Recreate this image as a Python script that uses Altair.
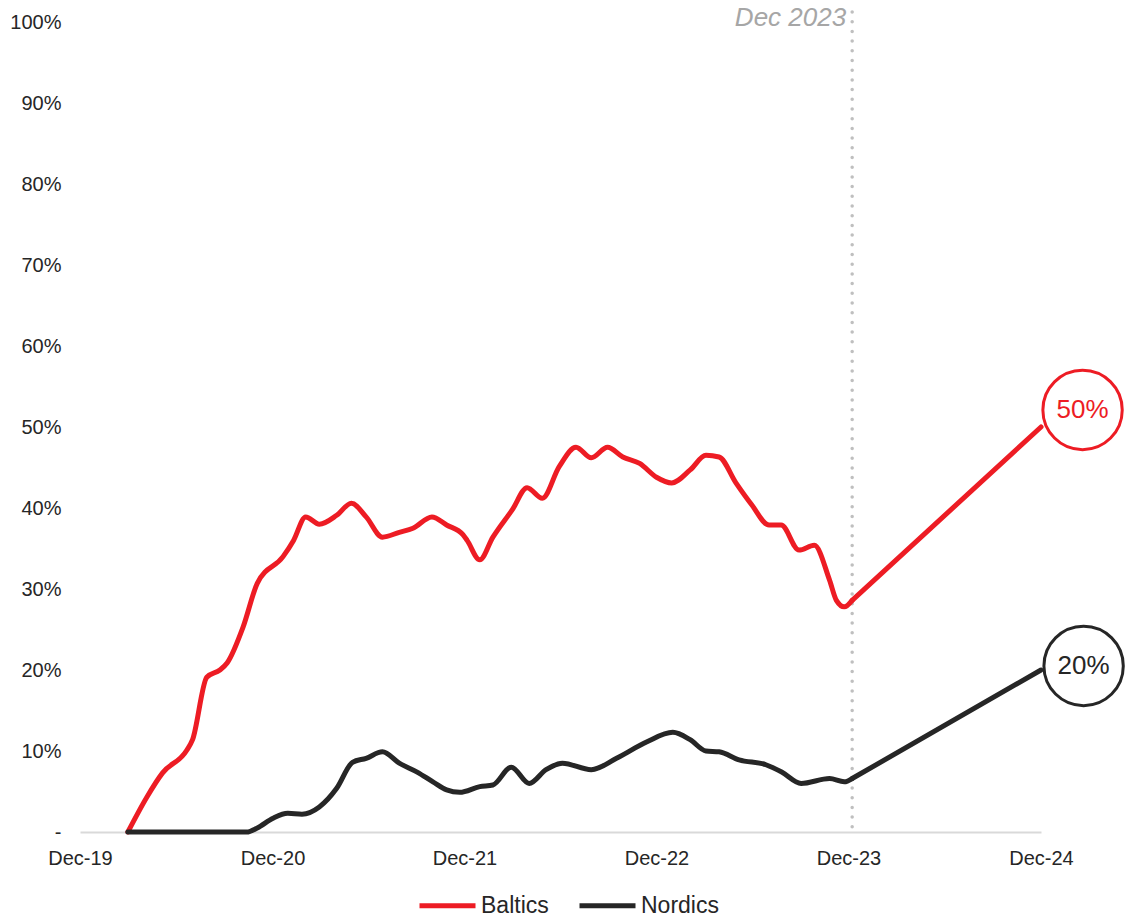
import altair as alt
import pandas as pd

RED = "#ED1C24"
BLACK = "#262626"

baltics_dates = [
    "2020-03-01", "2020-04-06", "2020-05-06", "2020-06-21", "2020-07-02", "2020-07-29",
    "2020-08-23", "2020-09-06", "2020-10-06", "2020-11-02", "2020-12-21", "2021-01-10",
    "2021-02-02", "2021-02-28", "2021-04-02", "2021-04-30", "2021-05-28", "2021-06-28",
    "2021-07-30", "2021-08-25", "2021-09-30", "2021-10-28", "2021-11-28", "2021-12-06",
    "2021-12-30", "2022-01-24", "2022-03-02", "2022-03-30", "2022-04-28", "2022-05-30",
    "2022-07-01", "2022-07-30", "2022-08-30", "2022-09-28", "2022-10-30", "2022-12-01",
    "2022-12-30", "2023-02-03", "2023-03-05", "2023-03-30", "2023-05-01", "2023-05-31",
    "2023-07-03", "2023-07-26", "2023-08-29", "2023-09-27", "2023-10-26", "2023-11-08",
    "2023-11-23", "2023-12-08",
]
baltics_values = [
    0.0, 4.3, 7.3, 10.1, 11.4, 19.1,
    20.0, 20.9, 25.3, 30.7, 34.0, 36.0,
    38.9, 38.0, 39.1, 40.6, 38.9, 36.4,
    37.0, 37.5, 38.9, 37.9, 36.7, 36.0,
    33.6, 36.4, 39.8, 42.5, 41.2, 45.1,
    47.5, 46.2, 47.5, 46.3, 45.5, 43.8,
    43.1, 44.7, 46.5, 46.3, 43.1, 40.4,
    37.9, 37.9, 34.8, 35.4, 31.1, 28.6,
    27.8, 28.6,
]

nordics_dates = [
    "2020-03-01", "2020-10-13", "2020-11-02", "2020-12-02", "2020-12-30", "2021-01-26",
    "2021-02-28", "2021-04-02", "2021-05-02", "2021-05-28", "2021-06-28", "2021-07-30",
    "2021-09-02", "2021-10-02", "2021-10-28", "2021-11-22", "2021-12-30", "2022-01-24",
    "2022-02-28", "2022-04-03", "2022-05-05", "2022-06-05", "2022-07-30", "2022-09-16",
    "2022-11-12", "2023-01-01", "2023-02-03", "2023-03-05", "2023-03-30", "2023-05-07",
    "2023-06-27", "2023-07-27", "2023-09-02", "2023-10-26", "2023-11-23", "2023-12-08",
]
nordics_values = [
    0.0, 0.0, 0.5, 1.7, 2.3, 2.2,
    3.1, 5.4, 8.6, 9.1, 9.9, 8.5,
    7.4, 6.2, 5.2, 4.9, 5.6, 5.8,
    8.0, 6.0, 7.7, 8.5, 7.7, 9.1,
    11.1, 12.3, 11.4, 10.0, 9.9, 8.9,
    8.3, 7.4, 6.0, 6.6, 6.2, 6.6,
]

# projection to Dec-24
proj_dates = ["2023-12-08", "2024-12-01"]
baltics_proj = [28.6, 50.0]
nordics_proj = [6.6, 20.0]

# target bubbles
bubble_series = ["Baltics", "Nordics"]
bubble_dates = ["2025-02-18", "2025-02-20"]
bubble_values = [52.1, 20.5]
bubble_labels = ["50%", "20%"]

marker_date = ["2023-12-08"]
marker_label = ["Dec 2023"]

series_names = ["Baltics", "Nordics"]
series_colors = [RED, BLACK]

hist = pd.concat([
    pd.DataFrame({"date": baltics_dates, "value": baltics_values, "series": "Baltics"}),
    pd.DataFrame({"date": nordics_dates, "value": nordics_values, "series": "Nordics"}),
])
proj = pd.concat([
    pd.DataFrame({"date": proj_dates, "value": baltics_proj, "series": "Baltics"}),
    pd.DataFrame({"date": proj_dates, "value": nordics_proj, "series": "Nordics"}),
])
bubbles = pd.DataFrame({"date": bubble_dates, "value": bubble_values,
                        "series": bubble_series, "label": bubble_labels})
marker = pd.DataFrame({"date": marker_date, "label": marker_label})

x_ticks = [alt.DateTime(year=y, month=12, date=1, utc=True) for y in range(2019, 2025)]
x_scale = alt.Scale(type="utc", domain=[x_ticks[0], x_ticks[-1]])
y_scale = alt.Scale(domain=[0, 100], nice=False)
color_scale = alt.Scale(domain=series_names, range=series_colors)

x_enc = alt.X(
    "date:T", scale=x_scale, title=None,
    axis=alt.Axis(values=x_ticks, labelExpr="utcFormat(datum.value, '%b-%y')",
                  grid=False, ticks=False, tickSize=0, domain=True, labelFlush=False,
                  labelAlign="center",
                  domainColor="#D9D9D9", domainWidth=2, labelPadding=16,
                  labelFontSize=20, labelColor=BLACK, labelFont="Liberation Sans"),
)
y_enc = alt.Y(
    "value:Q", scale=y_scale, title=None,
    axis=alt.Axis(values=list(range(0, 101, 10)),
                  labelExpr="datum.value == 0 ? '-' : datum.value + '%'",
                  grid=False, ticks=False, tickSize=0, domain=False, labelPadding=19,
                  labelFlush=False,
                  labelFontSize=20, labelColor=BLACK, labelFont="Liberation Sans"),
)

hist_line = alt.Chart(hist).mark_line(strokeWidth=5, interpolate="monotone", strokeCap="round").encode(
    x=x_enc, y=y_enc,
    color=alt.Color("series:N", scale=color_scale, title=None,
                    legend=alt.Legend(orient="none", direction="horizontal",
                                      legendX=337, legendY=853,
                                      symbolType="stroke", symbolSize=3136,
                                      symbolStrokeWidth=5, labelFontSize=23,
                                      labelFont="Liberation Sans", labelColor=BLACK,
                                      labelOffset=3, columnPadding=20)),
)
proj_line = alt.Chart(proj).mark_line(strokeWidth=5, strokeCap="round").encode(
    x="date:T", y="value:Q",
    color=alt.Color("series:N", scale=color_scale, legend=None),
)
rule = alt.Chart(marker).mark_rule(
    color="#BFBFBF", strokeWidth=3.5, strokeDash=[0, 9.7], strokeCap="round"
).encode(x="date:T", y=alt.value(-10), y2=alt.value(810))
rule_text = alt.Chart(marker).mark_text(
    align="right", baseline="alphabetic", dx=-6, fontSize=26, fontStyle="italic",
    font="Liberation Sans", color="#A6A6A6"
).encode(x="date:T", y=alt.value(4), text="label:N")

bubble_circles = alt.Chart(bubbles).mark_circle(
    size=6300, fill="white", opacity=1, strokeWidth=3
).encode(
    x="date:T", y="value:Q",
    stroke=alt.Stroke("series:N", scale=color_scale, legend=None),
)
bubble_text = alt.Chart(bubbles).mark_text(
    fontSize=26, font="Liberation Sans", align="center", baseline="middle"
).encode(
    x="date:T", y="value:Q", text="label:N",
    color=alt.Color("series:N", scale=color_scale, legend=None),
)

chart = alt.layer(rule, hist_line, proj_line, bubble_circles, bubble_text, rule_text).properties(
    width=961, height=810,
    autosize=alt.AutoSizeParams(type="none"),
    padding={"left": 80, "top": 22, "right": 86, "bottom": 86},
    background="white",
).configure_view(stroke=None)

chart.save("out.html", embed_options={"renderer": "svg", "actions": False})
